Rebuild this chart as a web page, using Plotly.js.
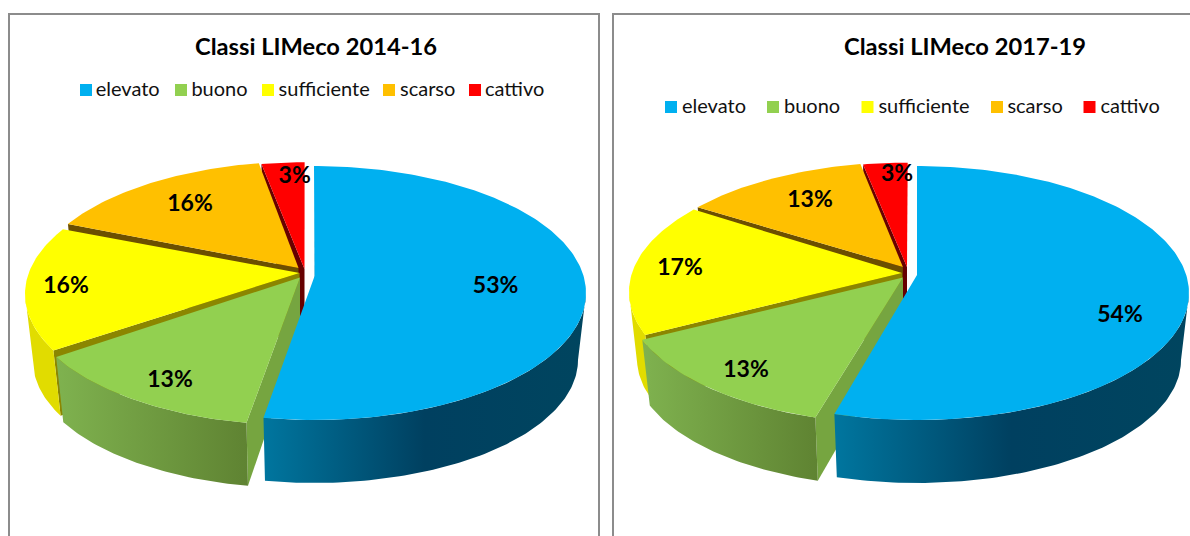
<!DOCTYPE html>
<html><head><meta charset="utf-8">
<script src="https://cdn.plot.ly/plotly-3.0.1.min.js"></script>
<style>html,body{margin:0;padding:0;background:#fff;overflow:hidden}#c{width:1190px;height:536px}</style>
</head><body><div id="c"></div>
<script>
// ---- data ----
const categories = ['elevato','buono','sufficiente','scarso','cattivo'];
const values1416 = [52.6,13.2,15.8,15.5,2.9];
const values1719 = [54.3,13.2,17.0,12.5,3.0];
const title1416 = 'Classi LIMeco 2014-16';
const title1719 = 'Classi LIMeco 2017-19';

// ---- styles ----
const topColors  = ['#00B0F0','#92D050','#FFFF00','#FFC000','#FF0000'];
const faceColors = ['#004a68','#76a540','#8b8600','#6c4f00','#670000'];
const wallStyles = [
  [[0,'#00769f'],[0.5,'#004060'],[1,'#00455f']],
  [[0,'#7fb24f'],[1,'#5f8332']],
  [[0,'#e1dc00'],[1,'#e1dc00']],
  [[0,'#a07c00'],[1,'#a07c00']],
  [[0,'#a00000'],[1,'#a00000']]
];
const FONT = 'Lato, Carlito, Calibri, sans-serif';

// ---- 3D projection look of the exploded pie ----
const RX = 272, RY = 127, PERSP = 0.134;
const BOTTOM_RX = 264, BOTTOM_RY = 123, BOTTOM_DY = 67, APEX_DEPTH = 56;
const WALL_FROM = 97.7, WALL_TO = 262.3;   // front-facing part of the rim
const explode1416 = {
  centers: [[314,293],[297,298],[297,294],[302,288.6],[304.6,289.3]],
  apexes:  [[314.6,276],[300,277.5],[299.6,273],[298.5,268],[304.5,269]],
  endTrim: [0,1.2,0,0,0],
  labels:  [[495.6,287],[170,381],[66,287],[190,205],[294.7,177]],
  legendMarks: [86,181,268,389,475], legendTexts: [95.7,191.4,278.6,400,485], legendY: 90, titleX: 316
};
const explode1719 = {
  centers: [[917,293],[898,296.5],[901,291.8],[905,289.4],[907.7,289.7]],
  apexes:  [[917,275],[903,277.5],[902,273],[902.9,267],[907,267]],
  endTrim: [0,0,0,0,0],
  labels:  [[1120,316],[746,371],[680,269],[810,201],[897,175]],
  legendMarks: [671,773,867.5,997,1089.5], legendTexts: [682,784,878.4,1007.4,1100.4], legendY: 107, titleX: 965
};

// Point on the tilted disc rim for clockwise angle phi (deg from top)
function project(phi){
  const a = phi*Math.PI/180, X = Math.sin(a), Y = Math.cos(a);
  const d = 1 + PERSP*Y;
  return [X*Math.sqrt(1-PERSP*PERSP)/d, (Y+PERSP)/d];
}
function arc(p1,p2,cx,cy,rx,ry){
  const pts = [], n = Math.max(2,Math.ceil(Math.abs(p2-p1)));
  for(let i=0;i<=n;i++){
    const q = project(p1+(p2-p1)*i/n);
    pts.push([cx+rx*q[0], cy-ry*q[1]]);
  }
  return pts;
}
function poly(pts,xa,ya,fillcolor,gradient){
  const t = {type:'scatter',mode:'lines',x:pts.map(p=>p[0]),y:pts.map(p=>p[1]),
    xaxis:xa,yaxis:ya,fill:'toself',line:{width:0},hoverinfo:'skip',showlegend:false};
  if(gradient) t.fillgradient = {type:'horizontal',colorscale:gradient};
  else t.fillcolor = fillcolor;
  return t;
}
function pie(values,geo,xa,ya){
  const total = values.reduce((s,v)=>s+v,0);
  let acc = 0;
  const spans = values.map(v=>{const a=acc; acc+=v; return [a/total*360,acc/total*360];});
  const out = [];
  for(let i=values.length-1;i>=0;i--){
    const p1 = spans[i][0], p2 = spans[i][1]-geo.endTrim[i], [cx,cy] = geo.centers[i], [ax,ay] = geo.apexes[i];
    const topArc = arc(p1,p2,cx,cy,RX,RY);
    const startTop = topArc[0];
    const startBot = arc(p1,p1+1,cx,cy+BOTTOM_DY,BOTTOM_RX,BOTTOM_RY)[0];
    // cut face at the slice's starting radius
    out.push(poly([[ax,ay],startTop,startBot,[ax,ay+APEX_DEPTH]],xa,ya,faceColors[i]));
    // outer wall, front-facing part only
    const w1 = Math.max(p1,WALL_FROM), w2 = Math.min(p2,WALL_TO);
    if(w2>w1){
      const wt = arc(w1,w2,cx,cy,RX,RY), wb = arc(w1,w2,cx,cy+BOTTOM_DY,BOTTOM_RX,BOTTOM_RY);
      out.push(poly(wt.concat(wb.slice().reverse()),xa,ya,null,wallStyles[i]));
    }
    // top surface
    out.push(poly([[ax,ay]].concat(topArc),xa,ya,topColors[i]));
  }
  out.push({type:'scatter',mode:'text',x:geo.labels.map(p=>p[0]),y:geo.labels.map(p=>p[1]),
    text:values.map(v=>Math.round(v/total*100)+'%'),textposition:'middle center',
    textfont:{family:FONT,size:23,weight:700,color:'#000'},xaxis:xa,yaxis:ya,
    cliponaxis:false,hoverinfo:'skip',showlegend:false});
  out.push({type:'scatter',mode:'markers',x:geo.legendMarks,y:categories.map(()=>geo.legendY),
    marker:{symbol:'square',size:12,color:topColors,line:{width:0}},xaxis:xa,yaxis:ya,
    cliponaxis:false,hoverinfo:'skip',showlegend:false});
  out.push({type:'scatter',mode:'text',x:geo.legendTexts,y:categories.map(()=>geo.legendY+1),
    text:categories,textposition:'middle right',
    textfont:{family:FONT,size:20,color:'#111'},xaxis:xa,yaxis:ya,
    cliponaxis:false,hoverinfo:'skip',showlegend:false});
  return out;
}
const W = 1190, H = 536, SPLIT = 605;
const px = v => v/W, py = v => 1-v/H;
const hidden = {visible:false,fixedrange:true};
const frame = (d)=>({type:'path',xref:'paper',yref:'paper',path:d,line:{color:'#8c8c8c',width:2}});
const layout = {
  width:W,height:H,margin:{l:0,r:0,t:0,b:0},paper_bgcolor:'#fff',plot_bgcolor:'#fff',showlegend:false,
  xaxis:Object.assign({},hidden,{domain:[0,SPLIT/W],range:[0,SPLIT]}),
  yaxis:Object.assign({},hidden,{range:[H,0]}),
  xaxis2:Object.assign({},hidden,{domain:[SPLIT/W,1],range:[SPLIT,W]}),
  yaxis2:Object.assign({},hidden,{range:[H,0],anchor:'x2'}),
  shapes:[
    frame(`M ${px(9)} ${py(H)} L ${px(9)} ${py(14)} L ${px(599)} ${py(14)} L ${px(599)} ${py(H)}`),
    frame(`M ${px(613)} ${py(H)} L ${px(613)} ${py(14)} L ${px(W)} ${py(14)}`)
  ],
  annotations:[
    {text:title1416,xref:'x',yref:'y',x:explode1416.titleX,y:45.5,showarrow:false,font:{family:FONT,size:23.7,weight:700,color:'#000'}},
    {text:title1719,xref:'x2',yref:'y2',x:explode1719.titleX,y:45.5,showarrow:false,font:{family:FONT,size:23.7,weight:700,color:'#000'}}
  ]
};
const traces = pie(values1416,explode1416,'x','y').concat(pie(values1719,explode1719,'x2','y2'));
Plotly.newPlot('c',traces,layout,{displayModeBar:false,responsive:false,staticPlot:true});
</script></body></html>
